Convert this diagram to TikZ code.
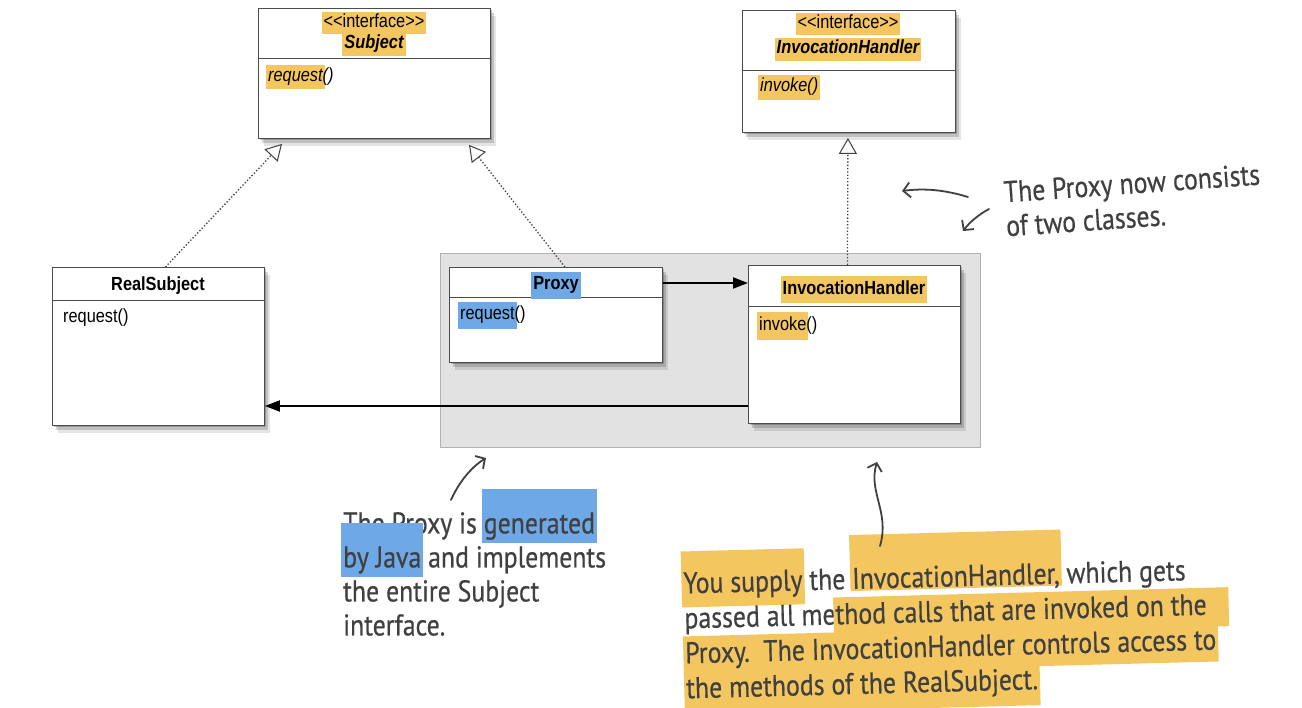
\documentclass[tikz,border=0pt]{standalone}
\usepackage{fontspec}
\usetikzlibrary{arrows.meta,shadows,calc}
\newfontfamily\umlfont[FakeStretch=0.86,Ligatures=TeXOff]{Liberation Sans}
\newfontfamily\handfont[FakeStretch=0.86,FakeBold=0.5]{PT Sans}
\definecolor{hlY}{HTML}{F4C660}
\definecolor{hlB}{HTML}{6EA8E6}
\definecolor{ink}{HTML}{404040}
\definecolor{panel}{HTML}{E2E2E2}

% marker highlight behind a piece of text: colour, depth, height, text
\newcommand\hlbox[4]{%
  \setbox0=\hbox{#4}%
  \makebox[0pt][l]{\smash{\kern-2pt\textcolor{#1}{\rule[-#2]{\dimexpr\wd0+4pt\relax}{\dimexpr#2+#3\relax}}}}%
  \box0\relax}

\begin{document}
\begin{tikzpicture}[x=1pt,y=-1pt,
  softshadow/.style={
    general shadow={shadow xshift=2pt,shadow yshift=-2pt,fill=black,opacity=.22},
    general shadow={shadow xshift=4pt,shadow yshift=-5pt,fill=black,opacity=.16},
    general shadow={shadow xshift=6pt,shadow yshift=-8pt,fill=black,opacity=.10}},
  cls/.style={draw=black!70,line width=0.9pt,fill=white,inner sep=0pt,
    anchor=north west,softshadow},
  divider/.style={draw=black!70,line width=0.9pt},
  umltxt/.style={inner sep=0pt,font=\umlfont\fontsize{19}{22}\selectfont},
  umlleft/.style={umltxt,anchor=west},
  assoc/.style={line width=2pt,-{Triangle[length=15pt,width=11pt]}},
  realize/.style={line width=1.3pt,dotted,draw=black!75,
    -{Triangle[open,length=16pt,width=18pt,fill=white,line width=1pt]}},
  note/.style={inner sep=0pt,align=left,text=ink,
    font=\handfont\fontsize{30}{34}\selectfont},
  handarrow/.style={draw=ink,line width=1.8pt,line cap=round,
    -{Straight Barb[length=7pt,width=15pt,line width=1.8pt]}}
]
\useasboundingbox (0,0) rectangle (1302,708);

% grey panel holding the two proxy classes
\node[draw=black!30,fill=panel,inner sep=0pt,anchor=north west,
  minimum width=540pt,minimum height=194pt] (panel) at (440,253) {};

% interface Subject
\node[cls,minimum width=232pt,minimum height=130pt] (subject) at (258,8) {};
\draw[divider] ($(subject.north west)+(0,50)$) -- ($(subject.north east)+(0,50)$);
\node[umltxt] (subjst) at (374,21) {\hlbox{hlY}{6pt}{16pt}{<<interface>>}};
\node[umltxt] (subjname) at (374,44) {\hlbox{hlY}{7pt}{16pt}{\bfseries\itshape Subject}};
\node[umlleft] (subjop) at (268,77) {\hlbox{hlY}{7pt}{17pt}{\itshape request}\itshape ()};

% interface InvocationHandler
\node[cls,minimum width=213pt,minimum height=122pt] (ihi) at (742,10) {};
\draw[divider] ($(ihi.north west)+(0,60)$) -- ($(ihi.north east)+(0,60)$);
\node[umltxt] (ihist) at (848,22) {\hlbox{hlY}{6pt}{16pt}{<<interface>>}};
\node[umltxt] (ihiname) at (848,47) {\hlbox{hlY}{7pt}{16pt}{\bfseries\itshape InvocationHandler}};
\node[umlleft] (ihiop) at (760,87) {\hlbox{hlY}{8pt}{17pt}{\itshape invoke()}};

% class RealSubject
\node[cls,minimum width=212pt,minimum height=158pt] (realsub) at (52,267) {};
\draw[divider] ($(realsub.north west)+(0,33)$) -- ($(realsub.north east)+(0,33)$);
\node[umltxt] (rsname) at (158,286) {\bfseries RealSubject};
\node[umlleft] (rsop) at (63,318) {request()};

% class Proxy
\node[cls,minimum width=213pt,minimum height=95pt] (proxy) at (449,267) {};
\draw[divider] ($(proxy.north west)+(0,30)$) -- ($(proxy.north east)+(0,30)$);
\node[umltxt] (pxname) at (556,285) {\hlbox{hlB}{9pt}{18pt}{\bfseries Proxy}};
\node[umlleft] (pxop) at (460,315) {\hlbox{hlB}{9pt}{18pt}{request}()};

% class InvocationHandler
\node[cls,minimum width=212pt,minimum height=158pt] (ihc) at (748,265) {};
\draw[divider] ($(ihc.north west)+(0,41)$) -- ($(ihc.north east)+(0,41)$);
\node[umltxt] (ihcname) at (854,288) {\hlbox{hlY}{8pt}{19pt}{\bfseries InvocationHandler}};
\node[umlleft] (ihcop) at (759,326) {\hlbox{hlY}{9pt}{19pt}{invoke}()};

% associations
\draw[assoc] ([yshift=-16pt]proxy.north east) -- ([yshift=-18pt]ihc.north west);
\draw[assoc] ([yshift=-141pt]ihc.north west) -- ([yshift=-139pt]realsub.north east);

% realizations
\draw[realize] ([xshift=7pt]realsub.north) -- ([xshift=24pt,yshift=-5pt]subject.south west);
\draw[realize] ([xshift=9pt]proxy.north) -- ([xshift=211pt,yshift=-6pt]subject.south west);
\draw[realize] ([xshift=-7pt]ihc.north) -- ([xshift=-1pt,yshift=-5pt]ihi.south);

% notes
\node[note,rotate=4] (note1) at (1133,200) {The Proxy now consists\\of two classes.};
\coordinate (n1a) at (968,197);
\coordinate (n1ah) at (902,191);
\coordinate (n1b) at (989,209);
\coordinate (n1bh) at (963,231);
\draw[handarrow] (n1a) .. controls (945,190) and (925,188) .. (n1ah);
\draw[handarrow] (n1b) .. controls (978,215) and (970,222) .. (n1bh);

\node[note,anchor=north west] (note2) at (343,512)
  {The Proxy is \hlbox{hlB}{10pt}{44pt}{generated}\\
   \hlbox{hlB}{10pt}{44pt}{by Java} and implements\\
   the entire Subject\\
   interface.};
\coordinate (n2t) at (451,500);
\coordinate (n2h) at (486,458);
\draw[handarrow] (n2t) .. controls (458,484) and (470,468) .. (n2h);

\node[note,rotate=1.5,anchor=north west,
  font=\handfont\fontsize{30}{35}\selectfont] (note3) at (683,572)
  {\hlbox{hlY}{14pt}{42pt}{You supply} the \hlbox{hlY}{2pt}{54pt}{InvocationHandler,} which gets\\
   passed all me\hlbox{hlY}{12pt}{27pt}{thod calls that are invoked on the\hspace{20pt}}\\
   \hlbox{hlY}{12pt}{27pt}{Proxy.\ \ The InvocationHandler controls access to}\\
   \hlbox{hlY}{16pt}{27pt}{the methods of the RealSubject.}};
\coordinate (n3t) at (880,546);
\coordinate (n3h) at (877,462);
\draw[handarrow] (n3t) .. controls (890,512) and (868,492) .. (n3h);
\end{tikzpicture}
\end{document}
